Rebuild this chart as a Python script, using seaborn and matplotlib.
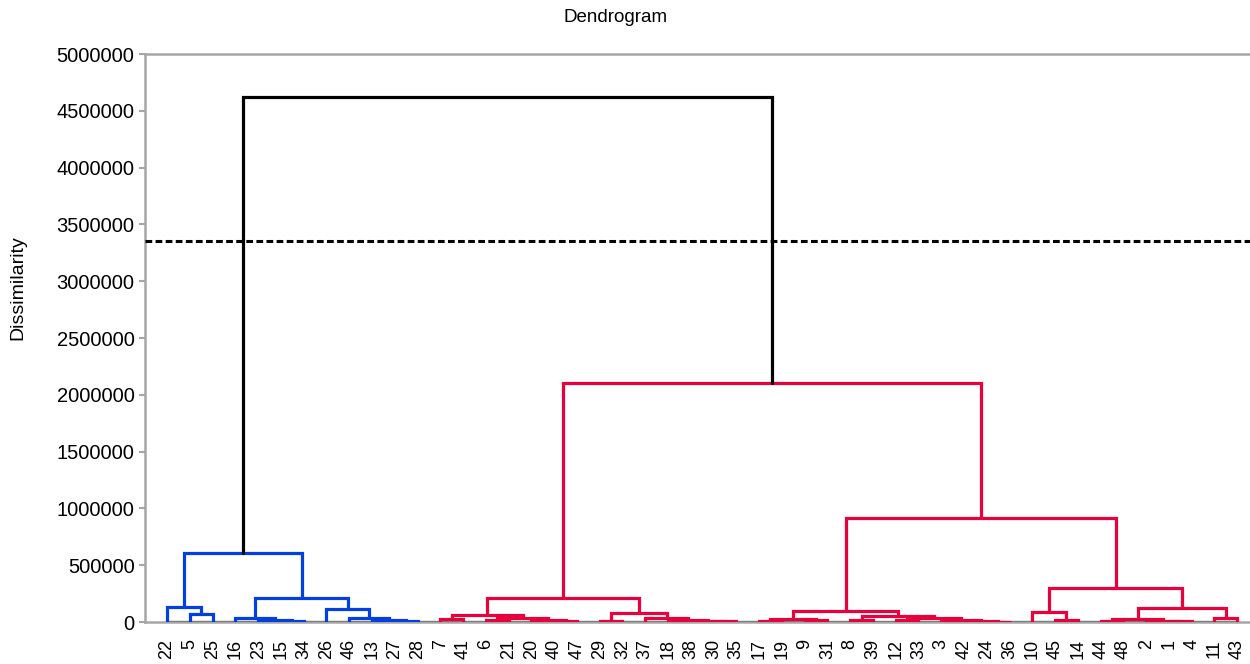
import matplotlib
matplotlib.use("Agg")
import numpy as np
import pandas as pd
import matplotlib.pyplot as plt
import seaborn as sns

# leaf order along the x axis
leaf_order = ["22", "5", "25", "16", "23", "15", "34", "26", "46", "13", "27", "28",
              "7", "41", "6", "21", "20", "40", "47", "29", "32", "37", "18", "38",
              "30", "35", "17", "19", "9", "31", "8", "39", "12", "33", "3", "42",
              "24", "36", "10", "45", "14", "44", "48", "2", "1", "4", "11", "43"]

# agglomeration steps: node "#k" is the k-th merge (1-based)
link_a = ["5", "22", "15", "23", "16", "27", "13", "46", "26", "#5", "#2",
          "7", "6", "40", "20", "#13", "#12", "29", "30", "38", "18", "37", "#18", "#17",
          "17", "9", "#25", "8", "12", "24", "42", "3", "#29", "#28", "#27",
          "45", "10", "44", "1", "2", "#38", "11", "#41", "#37", "#35", "#24", "#11"]
link_b = ["25", "#1", "34", "#3", "#4", "28", "#6", "#7", "#8", "#9", "#10",
          "41", "21", "47", "#14", "#15", "#16", "32", "35", "#19", "#20", "#21", "#22", "#23",
          "19", "31", "#26", "39", "33", "36", "#30", "#31", "#32", "#33", "#34",
          "14", "#36", "48", "4", "#39", "#40", "43", "#42", "#43", "#44", "#45", "#46"]
link_h = [70000, 132000, 10000, 18000, 35000, 8000, 20000, 35000, 114000, 211000, 607000,
          25000, 20000, 6000, 15000, 35000, 62000, 10000, 5000, 10000, 20000, 35000, 75000, 210000,
          12000, 15000, 30000, 15000, 20000, 4000, 8000, 15000, 35000, 50000, 95000,
          20000, 85000, 10000, 5000, 12000, 25000, 35000, 120000, 300000, 915000, 2100000, 4620000]

cut_level = 3354000
y_ticks = np.arange(0, 5000001, 500000)

blue = "#0040E0"
red = "#E6003E"

# build node coordinates
node_x = {lab: i for i, lab in enumerate(leaf_order)}
node_h = {lab: 0.0 for lab in leaf_order}
rows = []
for k, (a, b, h) in enumerate(zip(link_a, link_b, link_h), start=1):
    name = f"#{k}"
    node_x[name] = (node_x[a] + node_x[b]) / 2
    node_h[name] = h
    rows.append((k, a, b, h))

# clusters below the cut (left one blue, right one red)
parent = {}
for k, a, b, h in rows:
    parent[a] = f"#{k}"
    parent[b] = f"#{k}"
roots = [n for n in node_h if n in parent and node_h[n] <= cut_level < node_h[parent[n]]]
roots.sort(key=lambda n: node_x[n])
group_of_root = {roots[0]: "c1", roots[1]: "c2"}


def group(node):
    if node_h[node] > cut_level:
        return "top"
    while node not in group_of_root:
        node = parent[node]
    return group_of_root[node]


seg = []
for k, a, b, h in rows:
    g = group(f"#{k}")
    seg += [(k, node_x[a], node_h[a], g), (k, node_x[a], h, g),
            (k, node_x[b], h, g), (k, node_x[b], node_h[b], g)]
seg_df = pd.DataFrame(seg, columns=["seg", "x", "y", "group"])

sns.set_style("white")
plt.rcParams["font.family"] = ["Liberation Sans", "DejaVu Sans"]
plt.rcParams["text.color"] = "black"
plt.rcParams["xtick.color"] = "black"
plt.rcParams["ytick.color"] = "black"

fig = plt.figure(figsize=(12.5, 6.64), dpi=100)
ax = fig.add_axes([145 / 1250, 1 - 622 / 664, 1 - 145 / 1250, (622 - 54) / 664])

ax.hlines(0, 0, len(leaf_order) - 1, color="black", lw=1.6, zorder=2)
sns.lineplot(data=seg_df, x="x", y="y", units="seg", estimator=None, sort=False,
             hue="group", palette={"top": "black", "c1": blue, "c2": red},
             legend=False, lw=2.3, ax=ax, zorder=3)
for line in ax.lines:
    line.set_solid_joinstyle("miter")
ax.axhline(cut_level, color="black", ls="--", lw=2.2, dashes=(2.2, 1.1), zorder=4)

ax.set_xlim(-0.97, 47.56)
ax.set_ylim(0, 5000000)
ax.set_yticks(y_ticks)
ax.set_yticklabels([str(int(v)) for v in y_ticks], fontsize=14.5)
ax.set_xticks(range(len(leaf_order)))
ax.set_xticklabels(leaf_order, rotation=90, fontsize=13, va="top")
ax.set_xlabel("")
ax.set_ylabel("")

gray = "#A6A6A6"
for side in ["left", "top", "bottom"]:
    ax.spines[side].set_color(gray)
    ax.spines[side].set_linewidth(1.8)
ax.spines["right"].set_visible(False)
ax.tick_params(axis="y", left=True, length=4.5, width=1.5, color=gray,
               labelcolor="black", pad=3)
ax.tick_params(axis="x", bottom=False, labelcolor="black", pad=9)

fig.text(616 / 1250, 1 - 18 / 664, "Dendrogram", ha="center", va="center",
         fontsize=13.5, color="black")
fig.text(18 / 1250, 1 - 288 / 664, "Dissimilarity", ha="center", va="center",
         rotation=90, fontsize=14, color="black")

fig.savefig("out.png", dpi=100)
